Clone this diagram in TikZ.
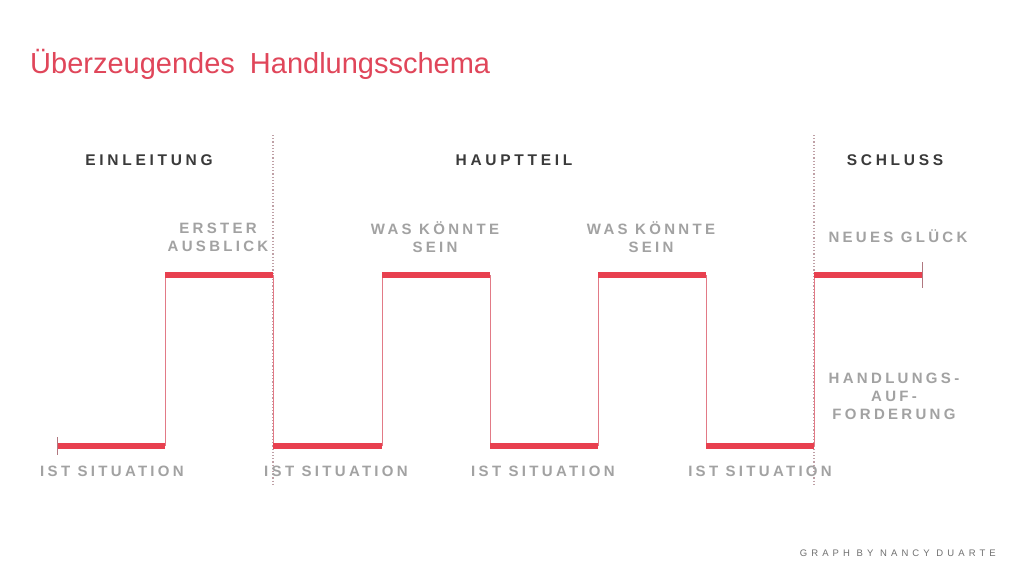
\documentclass[tikz,border=0pt]{standalone}
\usepackage{fontspec}
\setmainfont{Liberation Sans}
\usetikzlibrary{positioning}
\definecolor{duartered}{HTML}{E8404F}
\definecolor{titlered}{HTML}{E0465A}
\definecolor{risered}{HTML}{E27A86}
\definecolor{tickgray}{HTML}{B07880}
\definecolor{dotgray}{HTML}{BFA0A6}
\definecolor{headgray}{HTML}{3A3A3A}
\definecolor{notegray}{HTML}{A2A2A2}
\definecolor{footgray}{HTML}{707070}

\begin{document}
\begin{tikzpicture}[
    x=1pt, y=-1pt,
    level/.style={draw=duartered, line width=5.8pt},
    riser/.style={draw=risered, line width=0.9pt},
    endtick/.style={draw=tickgray, line width=0.9pt},
    divider/.style={draw=dotgray, dotted, line width=1.2pt},
    title/.style={anchor=base west, inner sep=0pt, text=titlered, font=\fontsize{29}{34}\selectfont},
    section/.style={inner sep=0pt, text=headgray, font=\fontsize{15.5}{18}\selectfont\bfseries\addfontfeature{LetterSpace=24}},
    note/.style={inner sep=0pt, align=center, text=notegray, font=\fontsize{15}{18}\selectfont\bfseries\addfontfeature{LetterSpace=22}},
    credit/.style={anchor=base east, inner sep=0pt, text=footgray, font=\fontsize{9.5}{11}\selectfont\addfontfeature{LetterSpace=43}}
]
\useasboundingbox[fill=white] (0,0) rectangle (1030,579);

% Title and sections
\node[title] (headline) at (30,73) {Überzeugendes\hspace{7pt} Handlungsschema};
\node[section] (einleitung) at (149,160) {EINLEITUNG};
\node[section] (hauptteil) at (514,160) {HAUPTTEIL};
\node[section] (schluss) at (895,160) {SCHLUSS};

% Dotted section borders
\coordinate (div1top) at (273,135);
\coordinate (div1bot) at (273,486);
\coordinate (div2top) at (814,135);
\coordinate (div2bot) at (814,486);
\draw[divider] (div1top) -- (div1bot);
\draw[divider] (div2top) -- (div2bot);

% Corner points of the step line
\coordinate (ist1a) at (57,446);
\coordinate (ist1b) at (165,446);
\coordinate (up1a) at (165,275);
\coordinate (up1b) at (273,275);
\coordinate (ist2a) at (273,446);
\coordinate (ist2b) at (382,446);
\coordinate (up2a) at (382,275);
\coordinate (up2b) at (490,275);
\coordinate (ist3a) at (490,446);
\coordinate (ist3b) at (598,446);
\coordinate (up3a) at (598,275);
\coordinate (up3b) at (706,275);
\coordinate (ist4a) at (706,446);
\coordinate (ist4b) at (814,446);
\coordinate (up4a) at (814,275);
\coordinate (up4b) at (922,275);

% Risers
\draw[riser] (ist1b) -- (up1a);
\draw[riser] (up1b) -- (ist2a);
\draw[riser] (ist2b) -- (up2a);
\draw[riser] (up2b) -- (ist3a);
\draw[riser] (ist3b) -- (up3a);
\draw[riser] (up3b) -- (ist4a);
\draw[riser] (ist4b) -- (up4a);

% Levels
\draw[level] (ist1a) -- (ist1b);
\draw[level] (up1a) -- (up1b);
\draw[level] (ist2a) -- (ist2b);
\draw[level] (up2a) -- (up2b);
\draw[level] (ist3a) -- (ist3b);
\draw[level] (up3a) -- (up3b);
\draw[level] (ist4a) -- (ist4b);
\draw[level] (up4a) -- (up4b);

% Start and end ticks
\draw[endtick] ([yshift=9pt]ist1a) -- ([yshift=-9pt]ist1a);
\draw[endtick] ([yshift=13pt]up4b) -- ([yshift=-13pt]up4b);

% Labels
\node[note] (ausblick) at (218,237) {ERSTER\\AUSBLICK};
\node[note] (sein1) at (435,237) {WAS KÖNNTE\\SEIN};
\node[note] (sein2) at (651,237) {WAS KÖNNTE\\SEIN};
\node[note] (glueck) at (898,236) {NEUES GLÜCK};
\node[note] (aufforderung) at (894,396) {HANDLUNGS-\\AUF-\\FORDERUNG};
\node[note] (ist1) at (112,471) {IST SITUATION};
\node[note] (ist2) at (336,471) {IST SITUATION};
\node[note] (ist3) at (543,471) {IST SITUATION};
\node[note] (ist4) at (760,471) {IST SITUATION};

% Credit
\node[credit] (source) at (996,556) {GRAPH BY NANCY DUARTE};

\end{tikzpicture}
\end{document}
